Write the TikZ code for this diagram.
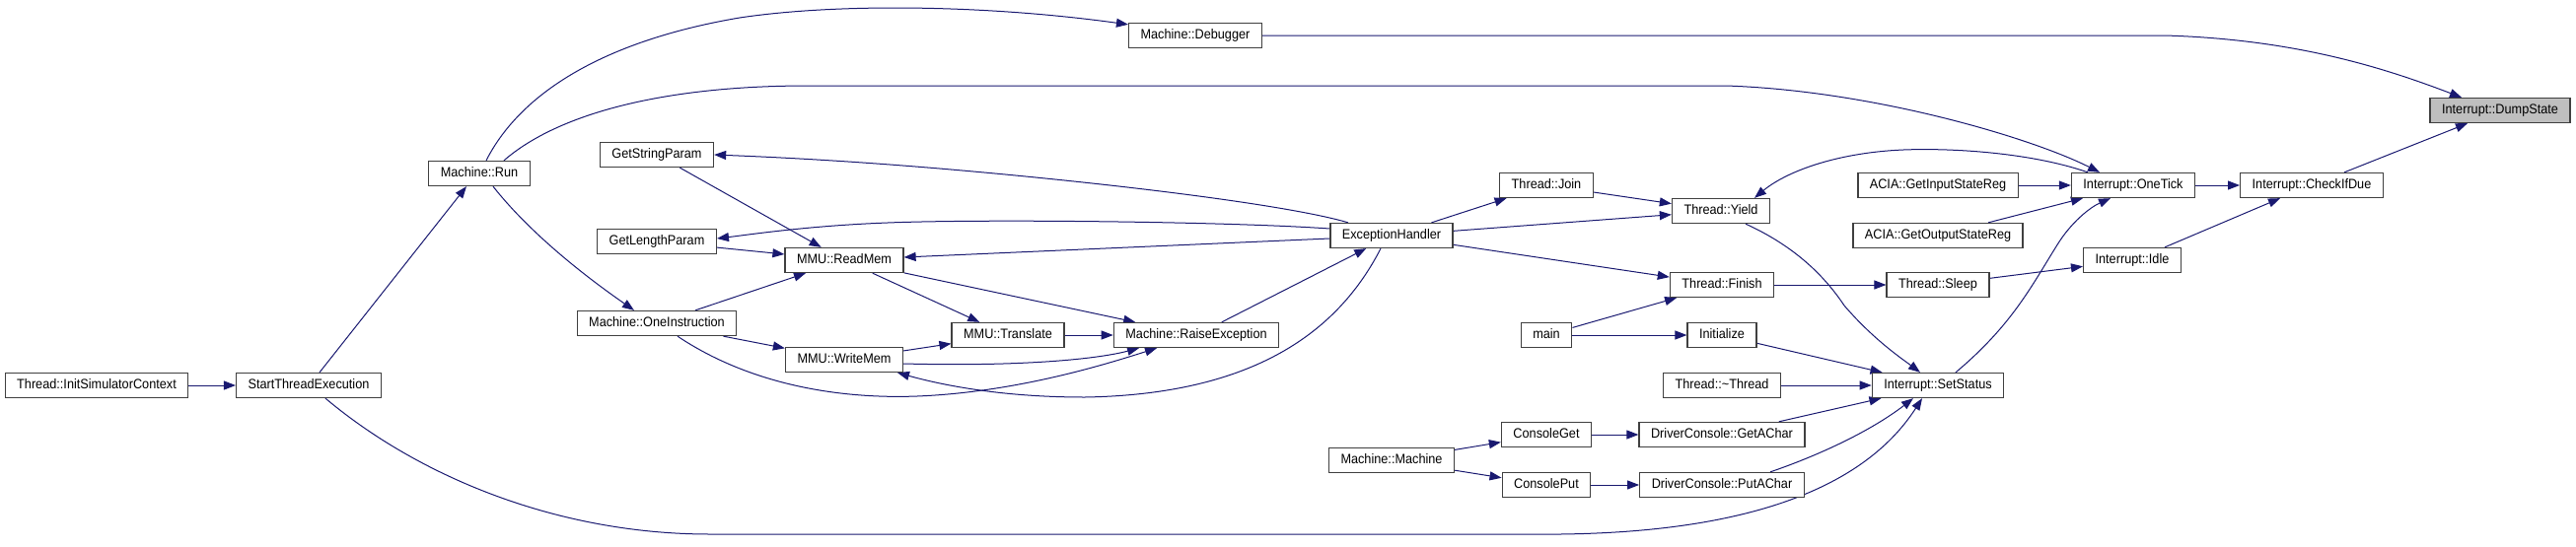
\documentclass[tikz,border=0pt]{standalone}
\usepackage{fontspec}
\setmainfont{Liberation Sans}
\newfontfamily\dotfont[FakeStretch=0.92]{Liberation Sans}
\usetikzlibrary{arrows.meta,backgrounds}
\definecolor{navy}{HTML}{191970}

\begin{document}
\begin{tikzpicture}[
  x=1pt,y=-1pt,
  fn/.style={rectangle,draw=black!75,line width=1.3pt,fill=white,
             inner xsep=12pt,inner ysep=0pt,minimum height=25pt,
             font=\dotfont\fontsize{13.8}{15}\selectfont,text height=10pt,text depth=2.6pt},
  cur/.style={fn,fill=black!25},
  call/.style={-{Triangle[length=12pt,width=9pt]},draw=navy,line width=1pt}
]
  \useasboundingbox (0,0) rectangle (2612,554);

  % functions, left to right
  \node[fn] (isc) at (98,391) {Thread::InitSimulatorContext};
  \node[fn] (ste) at (313,391) {StartThreadExecution};
  \node[fn] (run) at (486,176) {Machine::Run};
  \node[fn] (gsp) at (666,157) {GetStringParam};
  \node[fn] (glp) at (666,245) {GetLengthParam};
  \node[fn] (onei) at (666,328) {Machine::OneInstruction};
  \node[fn] (dbg) at (1212,36) {Machine::Debugger};
  \node[fn] (rdm) at (856,264) {MMU::ReadMem};
  \node[fn] (wrm) at (856,365) {MMU::WriteMem};
  \node[fn] (trn) at (1022,340) {MMU::Translate};
  \node[fn] (rex) at (1213,340) {Machine::RaiseException};
  \node[fn] (exh) at (1411,239) {ExceptionHandler};
  \node[fn] (mach) at (1411,467) {Machine::Machine};
  \node[fn] (join) at (1568,188) {Thread::Join};
  \node[fn] (main) at (1568,340) {main};
  \node[fn] (cget) at (1568,441) {ConsoleGet};
  \node[fn] (cput) at (1568,492) {ConsolePut};
  \node[fn] (yield) at (1745,214) {Thread::Yield};
  \node[fn] (finish) at (1746,289) {Thread::Finish};
  \node[fn] (init) at (1746,340) {Initialize};
  \node[fn] (dtor) at (1746,391) {Thread::\textasciitilde Thread};
  \node[fn] (getac) at (1746,441) {DriverConsole::GetAChar};
  \node[fn] (putac) at (1746,492) {DriverConsole::PutAChar};
  \node[fn] (acin) at (1965,188) {ACIA::GetInputStateReg};
  \node[fn] (acout) at (1965,239) {ACIA::GetOutputStateReg};
  \node[fn] (sleep) at (1965,289) {Thread::Sleep};
  \node[fn] (setst) at (1965,391) {Interrupt::SetStatus};
  \node[fn] (tick) at (2163,188) {Interrupt::OneTick};
  \node[fn] (idle) at (2162,264) {Interrupt::Idle};
  \node[fn] (due) at (2344,188) {Interrupt::CheckIfDue};
  \node[cur] (dump) at (2535,112) {Interrupt::DumpState};

  \begin{scope}[on background layer]
  % straight calls
  \draw[call] (isc) -- (ste);
  \draw[call] ([xshift=11pt]ste.north) -- ([xshift=-13pt]run.south);
  \draw[call] (gsp) -- (rdm);
  \draw[call] (glp) -- (rdm);
  \draw[call] (onei) -- (rdm);
  \draw[call] (onei) -- (wrm);
  \draw[call] (rdm) -- (trn);
  \draw[call] (rdm) -- (rex);
  \draw[call] (wrm) -- (trn);
  \draw[call] (trn) -- (rex);
  \draw[call] (rex) -- (exh);
  \draw[call] ([yshift=-3pt]exh.west) -- ([yshift=3pt]rdm.east);
  \draw[call] (exh) -- (join);
  \draw[call] (exh) -- (yield);
  \draw[call] (exh) -- (finish);
  \draw[call] (join) -- (yield);
  \draw[call] (main) -- (finish);
  \draw[call] (main) -- (init);
  \draw[call] (init) -- (setst);
  \draw[call] (dtor) -- (setst);
  \draw[call] (mach) -- (cget);
  \draw[call] (mach) -- (cput);
  \draw[call] (cget) -- (getac);
  \draw[call] (cput) -- (putac);
  \draw[call] (getac) -- (setst);
  \draw[call] (finish) -- (sleep);
  \draw[call] (sleep) -- (idle);
  \draw[call] (acin) -- (tick);
  \draw[call] (acout) -- (tick);
  \draw[call] (tick) -- (due);
  \draw[call] ([xshift=33pt]idle.north) -- ([xshift=-32pt]due.south);
  \draw[call] (due) -- (dump);

  % curved calls
  \draw[call] ([xshift=14pt]run.south) .. controls (540,240) and (600,285) .. ([xshift=-23pt]onei.north);
  \draw[call] ([xshift=7pt]run.north) .. controls (530,90) and (620,40) .. (750,18)
    .. controls (850,3) and (1000,5) .. ([yshift=-2pt]dbg.north west);
  \draw[call] ([xshift=25pt]run.north) .. controls (560,120) and (660,87) .. (820,87)
    -- (1750,87) .. controls (1900,92) and (2060,140) .. ([xshift=-34pt]tick.north);
  \draw[call] (dbg.east) -- (2195,36) .. controls (2330,40) and (2420,70) .. ([xshift=-39pt]dump.north);
  \draw[call] ([xshift=17pt]ste.south) .. controls (420,480) and (560,542) .. (720,542)
    -- (1550,542) .. controls (1800,545) and (1900,480) .. ([xshift=-16pt]setst.south);
  \draw[call] ([xshift=21pt]onei.south) .. controls (760,390) and (850,405) .. (930,402)
    .. controls (1030,398) and (1120,370) .. ([xshift=-40pt]rex.south);
  \draw[call] ([yshift=-4pt]wrm.east) .. controls (1030,372) and (1110,365) .. ([xshift=-58pt]rex.south);
  \draw[call] ([xshift=-11pt]exh.south) .. controls (1360,330) and (1280,400) .. (1100,403)
    .. controls (1020,403) and (960,392) .. ([xshift=54pt]wrm.south);
  \draw[call] ([xshift=-44pt]exh.north) .. controls (1320,212) and (1200,195) .. (1050,180)
    .. controls (900,165) and (800,160) .. (gsp.east);
  \draw[call] ([yshift=7pt]exh.west) .. controls (1250,225) and (1000,222) .. (900,226)
    .. controls (820,229) and (760,238) .. ([yshift=3pt]glp.east);
  \draw[call] ([xshift=-46pt]tick.north) .. controls (2060,155) and (1980,150) .. (1930,152)
    .. controls (1860,155) and (1810,175) .. ([xshift=34pt]yield.north);
  \draw[call] ([xshift=18pt]setst.north) .. controls (2040,330) and (2060,290) .. (2085,250)
    .. controls (2100,225) and (2120,210) .. ([xshift=-23pt]tick.south);
  \draw[call] ([xshift=25pt]yield.south) .. controls (1820,250) and (1850,280) .. (1870,310)
    .. controls (1900,345) and (1930,365) .. ([xshift=-18pt]setst.north);
  \draw[call] ([xshift=49pt]putac.north) .. controls (1850,460) and (1900,435) .. ([xshift=-25pt]setst.south);
  \end{scope}
\end{tikzpicture}
\end{document}
